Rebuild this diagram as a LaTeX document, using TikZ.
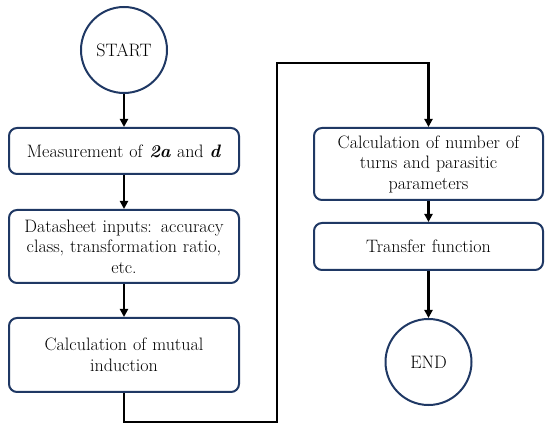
\documentclass[tikz,border=0pt]{standalone}
\usetikzlibrary{arrows.meta}
\definecolor{navy}{HTML}{1F3864}
\begin{document}
\begin{tikzpicture}[x=1pt,y=-1pt,
  box/.style={draw=navy,line width=2pt,rounded corners=8pt,fill=white,
    minimum width=230pt,align=center,text width=224pt,inner sep=0pt,
    font=\fontsize{18}{20.5}\selectfont},
  term/.style={draw=navy,line width=2pt,circle,minimum size=86pt,inner sep=0pt,
    font=\fontsize{18}{20.5}\selectfont},
  conn/.style={draw=black,line width=2.8pt,-{Triangle[length=8pt,width=8pt]}}]
\useasboundingbox (0,0) rectangle (550,433);
\node[term] (start) at (124,50) {START};
\node[box,minimum height=46pt] (meas) at (124,151) {Measurement of \textbf{\textit{2a}} and \textbf{\textit{d}}};
\node[box,minimum height=73pt] (data) at (124,246.5) {Datasheet inputs: accuracy\\ class, transformation ratio,\\ etc.};
\node[box,minimum height=74pt] (mut) at (124,355) {Calculation of mutual\\ induction};
\node[box,minimum height=72pt,minimum width=229pt] (calc) at (428.5,164) {Calculation of number of\\ turns and parasitic\\ parameters};
\node[box,minimum height=47pt,minimum width=229pt] (tf) at (428.5,246.5) {Transfer function};
\node[term] (end) at (428.5,362) {END};
\coordinate (c1) at (277,422);
\coordinate (c2) at (277,63);
\draw[conn] (start) -- (meas);
\draw[conn] (meas) -- (data);
\draw[conn] (data) -- (mut);
\draw[conn] (mut.south) |- (c1) -- (c2) -| (calc.north);
\draw[conn] (calc) -- (tf);
\draw[conn] (tf) -- (end);
\end{tikzpicture}
\end{document}
